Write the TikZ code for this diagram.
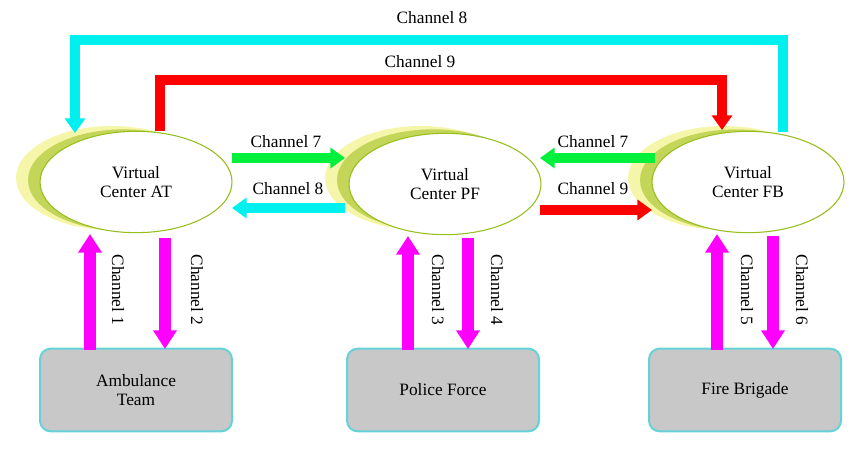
\documentclass[tikz,border=0pt]{standalone}
\usepackage{fontspec}
\setmainfont{Liberation Serif}
\usetikzlibrary{arrows.meta,shapes.geometric}
\definecolor{halo}{RGB}{246,246,170}
\definecolor{crescent}{RGB}{196,214,90}
\definecolor{rim}{RGB}{150,190,30}
\definecolor{boxg}{RGB}{200,200,200}
\definecolor{boxb}{RGB}{100,210,215}
\definecolor{mag}{RGB}{255,0,255}
\definecolor{cy}{RGB}{0,240,240}
\definecolor{gr}{RGB}{0,240,60}
\definecolor{rd}{RGB}{255,0,0}
\begin{document}
\begin{tikzpicture}[x=0.75pt,y=-0.75pt,
  vc/.style={ellipse,draw=rim,line width=0.8pt,fill=white,minimum width=144pt,minimum height=76pt,align=center,font=\fontsize{13}{14}\selectfont},
  ag/.style={line width=7pt,-{Triangle[length=11pt,width=15pt]}},
  vg/.style={line width=9pt,-{Triangle[length=14pt,width=17pt]}},
  bx/.style={rectangle,rounded corners=8pt,draw=boxb,line width=1.5pt,fill=boxg,minimum width=144pt,minimum height=62pt,align=center,font=\fontsize{13}{14}\selectfont},
  lb/.style={font=\fontsize{13}{14}\selectfont},
  vl/.style={font=\fontsize{13}{14}\selectfont,rotate=-90}]
\useasboundingbox (0,0) rectangle (863,459);
\foreach \x in {136,445,748}{
  \fill[halo] (\x-24,178) ellipse (72pt and 39pt);
  \fill[crescent] (\x-12,180) ellipse (72pt and 38pt);
}
\node[vc] (at) at (136,182) {Virtual\\Center AT};
\node[vc] (pf) at (445,184) {Virtual\\Center PF};
\node[vc] (fb) at (748,182) {Virtual\\Center FB};
\node[bx] (amb) at (136,390) {Ambulance\\Team};
\node[bx] (pol) at (443,390) {Police Force};
\node[bx] (fir) at (745,390) {Fire Brigade};
\coordinate (a1) at (90,350); \coordinate (a1e) at (90,234);
\coordinate (a2) at (165,238); \coordinate (a2e) at (165,349);
\coordinate (p1) at (408,350); \coordinate (p1e) at (408,236);
\coordinate (p2) at (468,238); \coordinate (p2e) at (468,349);
\coordinate (f1) at (717,350); \coordinate (f1e) at (717,234);
\coordinate (f2) at (773,236); \coordinate (f2e) at (773,349);
\draw[vg,mag] (a1) -- (a1e); \draw[vg,mag] (a2) -- (a2e);
\draw[vg,mag] (p1) -- (p1e); \draw[vg,mag] (p2) -- (p2e);
\draw[vg,mag] (f1) -- (f1e); \draw[vg,mag] (f2) -- (f2e);
\node[vl] at (118,290) {Channel 1};
\node[vl] at (197,290) {Channel 2};
\node[vl] at (438,290) {Channel 3};
\node[vl] at (497,290) {Channel 4};
\node[vl] at (747,290) {Channel 5};
\node[vl] at (802,290) {Channel 6};
\draw[ag,gr] (232,158) -- (345,158);
\draw[ag,cy] (345,208) -- (232,208);
\draw[ag,gr] (655,158) -- (540,158);
\draw[ag,rd] (540,210) -- (652,210);
\node[lb] at (286,142) {Channel 7};
\node[lb] at (288,189) {Channel 8};
\node[lb] at (593,142) {Channel 7};
\node[lb] at (593,189) {Channel 9};
\draw[cy,line width=7pt,-{Triangle[length=11pt,width=15pt]}] (783,132) -- (783,40) -- (75,40) -- (75,133);
\draw[rd,line width=7pt,-{Triangle[length=11pt,width=15pt]}] (160,131) -- (160,80) -- (722,80) -- (722,130);
\node[lb] at (432,18) {Channel 8};
\node[lb] at (420,62) {Channel 9};
\end{tikzpicture}
\end{document}
